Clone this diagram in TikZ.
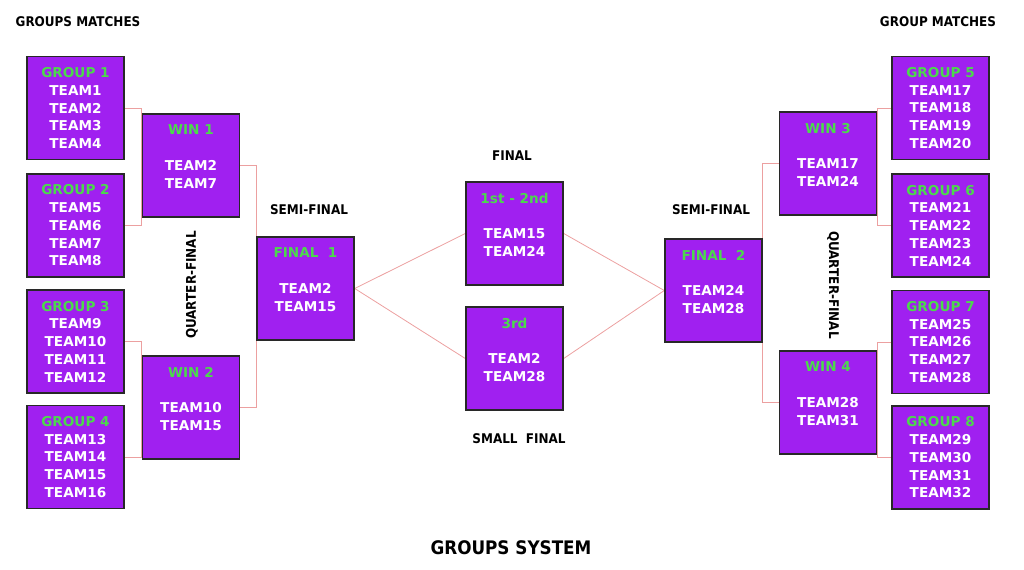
\documentclass[tikz,border=0pt]{standalone}
\usepackage{fontspec}
\newfontfamily\boxfont{DejaVu Sans}
\newfontfamily\labfont{DejaVu Sans Condensed}
\usetikzlibrary{backgrounds}
\definecolor{boxfill}{RGB}{160,32,240}
\definecolor{boxborder}{RGB}{40,40,40}
\definecolor{ttl}{RGB}{76,217,76}
\definecolor{conn}{RGB}{236,160,160}
\begin{document}
\begin{tikzpicture}[x=0.75pt,y=-0.75pt,
  teambox/.style={draw=boxborder,line width=1.1pt,fill=boxfill,text=white,
    minimum width=72.75pt,minimum height=77pt,inner sep=0pt,align=center,
    font=\boxfont\bfseries\fontsize{10.2pt}{13.3pt}\selectfont},
  lab/.style={font=\labfont\bfseries\fontsize{10pt}{12pt}\selectfont,text=black,inner sep=0pt},
  link/.style={draw=conn,line width=0.6pt}]
\useasboundingbox (0,0) rectangle (1024,570);
% groups left
\node[teambox] (g1) at (75.5,108) {\textcolor{ttl}{GROUP 1}\\TEAM1\\TEAM2\\TEAM3\\TEAM4};
\node[teambox] (g2) at (75.5,225.5) {\textcolor{ttl}{GROUP 2}\\TEAM5\\TEAM6\\TEAM7\\TEAM8};
\node[teambox] (g3) at (75.5,341.5) {\textcolor{ttl}{GROUP 3}\\TEAM9\\TEAM10\\TEAM11\\TEAM12};
\node[teambox] (g4) at (75.5,457) {\textcolor{ttl}{GROUP 4}\\TEAM13\\TEAM14\\TEAM15\\TEAM16};
% groups right
\node[teambox] (g5) at (940.5,108) {\textcolor{ttl}{GROUP 5}\\TEAM17\\TEAM18\\TEAM19\\TEAM20};
\node[teambox] (g6) at (940.5,225.5) {\textcolor{ttl}{GROUP 6}\\TEAM21\\TEAM22\\TEAM23\\TEAM24};
\node[teambox] (g7) at (940.5,342) {\textcolor{ttl}{GROUP 7}\\TEAM25\\TEAM26\\TEAM27\\TEAM28};
\node[teambox] (g8) at (940.5,457.5) {\textcolor{ttl}{GROUP 8}\\TEAM29\\TEAM30\\TEAM31\\TEAM32};
% wins
\node[teambox] (w1) at (191,165.5) {\textcolor{ttl}{WIN 1}\\\mbox{}\\TEAM2\\TEAM7\\\mbox{}};
\node[teambox] (w2) at (191,407.5) {\textcolor{ttl}{WIN 2}\\\mbox{}\\TEAM10\\TEAM15\\\mbox{}};
\node[teambox] (w3) at (828,163.5) {\textcolor{ttl}{WIN 3}\\\mbox{}\\TEAM17\\TEAM24\\\mbox{}};
\node[teambox] (w4) at (828,402.5) {\textcolor{ttl}{WIN 4}\\\mbox{}\\TEAM28\\TEAM31\\\mbox{}};
% finals
\node[teambox] (f1) at (305.5,288.5) {\textcolor{ttl}{FINAL\ \ 1}\\\mbox{}\\TEAM2\\TEAM15\\\mbox{}};
\node[teambox] (f2) at (713.5,290.5) {\textcolor{ttl}{FINAL\ \ 2}\\\mbox{}\\TEAM24\\TEAM28\\\mbox{}};
\node[teambox] (fa) at (514.5,233.5) {\textcolor{ttl}{1st - 2nd}\\\mbox{}\\TEAM15\\TEAM24\\\mbox{}};
\node[teambox] (fb) at (514.5,358.5) {\textcolor{ttl}{3rd}\\\mbox{}\\TEAM2\\TEAM28\\\mbox{}};
% connectors
\begin{scope}[on background layer]
\draw[link] (g1.east) -| (w1.west);
\draw[link] (g2.east) -| (w1.west);
\draw[link] (g3.east) -| (w2.west);
\draw[link] (g4.east) -| (w2.west);
\draw[link] (w1.east) -| (f1.west);
\draw[link] (w2.east) -| (f1.west);
\draw[link] (g5.west) -| (w3.east);
\draw[link] (g6.west) -| (w3.east);
\draw[link] (g7.west) -| (w4.east);
\draw[link] (g8.west) -| (w4.east);
\draw[link] (w3.west) -| (f2.east);
\draw[link] (w4.west) -| (f2.east);
\draw[link] (f1.east) -- (fa.west);
\draw[link] (f1.east) -- (fb.west);
\draw[link] (fa.east) -- (f2.west);
\draw[link] (fb.east) -- (f2.west);
\end{scope}
% labels
\node[lab] (l1) at (78,22) {GROUPS MATCHES};
\node[lab] (l2) at (938,22) {GROUP MATCHES};
\node[lab] (l3) at (309,210) {SEMI-FINAL};
\node[lab] (l4) at (711,210) {SEMI-FINAL};
\node[lab] (l5) at (512,156) {FINAL};
\node[lab] (l6) at (519,439) {SMALL\ \ FINAL};
\node[lab,rotate=90] (l7) at (192,285) {QUARTER-FINAL};
\node[lab,rotate=-90] (l8) at (833,285) {QUARTER-FINAL};
\node[lab,font=\labfont\bfseries\fontsize{14pt}{16pt}\selectfont] (l9) at (511,548) {GROUPS SYSTEM};
\end{tikzpicture}
\end{document}
